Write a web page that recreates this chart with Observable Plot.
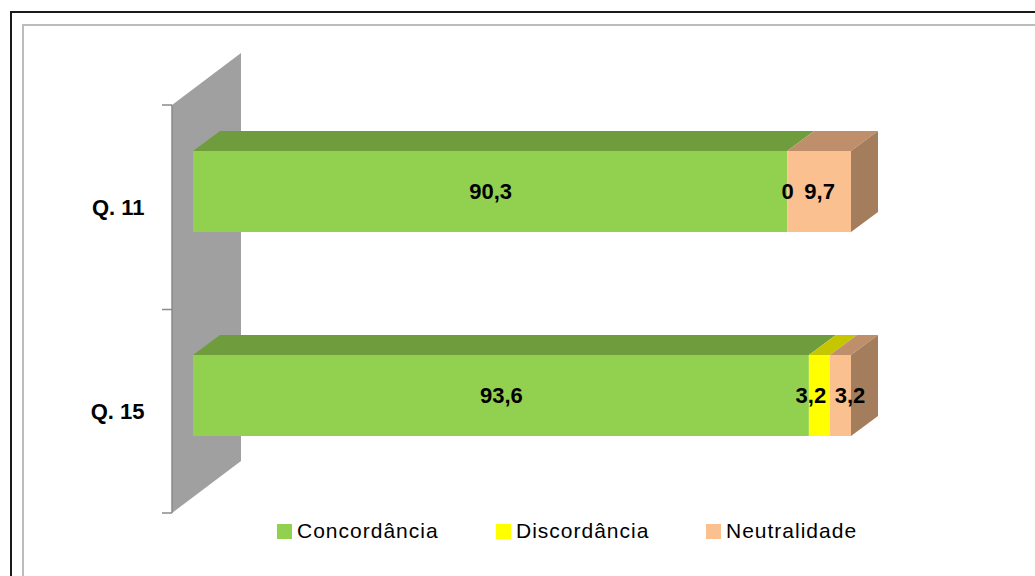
<!DOCTYPE html>
<html>
<head>
<meta charset="utf-8">
<script src="https://cdn.jsdelivr.net/npm/d3@7"></script>
<script src="https://cdn.jsdelivr.net/npm/@observablehq/plot@0.6"></script>
<style>
  body { margin: 0; background: #fff; font-family: "Liberation Sans", Arial, sans-serif; }
  #page { position: relative; width: 1035px; height: 576px; overflow: hidden; background: #fff; }
  #outer { position: absolute; left: 10px; top: 11px; width: 1100px; height: 700px; border: 2px solid #1a1a1a; box-sizing: border-box; }
  #inner { position: absolute; left: 22px; top: 24px; width: 1100px; height: 700px; border: 2px solid #bcbcbc; box-sizing: border-box; }
  #chart { position: absolute; left: 0; top: 0; }
  #chart svg { background: transparent; overflow: visible; }
  .legend-item { position: absolute; top: 522px; display: flex; align-items: center; font-size: 21px; letter-spacing: 1px; color: #000; line-height: 18px; }
  .legend-item .sw { width: 15px; height: 15px; margin-right: 5px; }
</style>
</head>
<body>
<div id="page">
  <div id="outer"></div>
  <div id="inner"></div>
  <div id="chart"></div>
  <div id="legend"></div>
</div>
<script>
// Survey answers per question (percent)
const questions = ["Q. 11", "Q. 15"];
const categories = ["Concordância", "Discordância", "Neutralidade"];
const q11Values = [90.3, 0, 9.7];
const q15Values = [93.6, 3.2, 3.2];

// Face colours of the 3-D bars
const frontColors = ["#92D050", "#FFFF00", "#FAC090"];
const topColors = ["#6F9D3D", "#C6C600", "#BF8F6B"];
const sideColors = ["#6A9436", "#B8B800", "#A47D5C"];

const seriesByQuestion = [q11Values, q15Values];

// One row per segment; `mid` is the centre of the segment along the stack
const rows = questions.flatMap((q, i) => {
  let acc = 0;
  return categories.map((c, j) => {
    const value = seriesByQuestion[i][j];
    const row = {question: q, category: c, value, mid: acc + value / 2};
    acc += value;
    return row;
  });
});

// Pseudo-3D geometry (pixels)
const DEPTH_X = 27, DEPTH_Y = -20;   // bar depth
const SHIFT = -16;                   // bar front face lifted above the band centre
const WALL_DX = 69, WALL_DY = -52;   // depth of the side wall
const WALL_GAP = 21;                 // wall front edge left of the zero line

const fmt = v => String(v).replace(".", ",");

function bandwidthOf(y) {
  return typeof y.bandwidth === "function" ? y.bandwidth() : 81;
}

// Grey side wall with the category ticks
function wall(index, scales, values, dims) {
  const {x, y} = scales;
  const bw = bandwidthOf(y);
  const top = dims.marginTop, bottom = dims.height - dims.marginBottom;
  const x0 = x(0) - WALL_GAP;
  const g = d3.create("svg:g");
  g.append("path")
    .attr("d", `M${x0},${top}L${x0 + WALL_DX},${top + WALL_DY}L${x0 + WALL_DX},${bottom + WALL_DY}L${x0},${bottom}Z`)
    .attr("fill", "#A0A0A0");
  g.append("line")
    .attr("x1", x0).attr("x2", x0).attr("y1", top).attr("y2", bottom)
    .attr("stroke", "#8a8a8a").attr("stroke-width", 1.5);
  const mid = (y(questions[0]) + bw + y(questions[1])) / 2;
  for (const ty of [top, mid, bottom]) {
    g.append("line")
      .attr("x1", x0 - 10).attr("x2", x0).attr("y1", ty).attr("y2", ty)
      .attr("stroke", "#8a8a8a").attr("stroke-width", 1.5);
  }
  return g.node();
}

// Top faces of every segment and the right face at the end of each stack
function depthFaces(index, scales) {
  const {x, y} = scales;
  const bw = bandwidthOf(y);
  const g = d3.create("svg:g");
  questions.forEach((q, i) => {
    const vals = seriesByQuestion[i];
    const y0 = y(q) + SHIFT;
    let acc = 0, last = -1;
    vals.forEach((v, j) => {
      const a = x(acc), b = x(acc + v);
      acc += v;
      if (v <= 0) return;
      last = j;
      g.append("path")
        .attr("d", `M${a},${y0}L${a + DEPTH_X},${y0 + DEPTH_Y}L${b + DEPTH_X},${y0 + DEPTH_Y}L${b},${y0}Z`)
        .attr("fill", topColors[j]);
    });
    const e = x(acc);
    g.append("path")
      .attr("d", `M${e},${y0}L${e + DEPTH_X},${y0 + DEPTH_Y}L${e + DEPTH_X},${y0 + bw + DEPTH_Y}L${e},${y0 + bw}Z`)
      .attr("fill", sideColors[last]);
  });
  return g.node();
}

const labelOpts = {y: "question", x: "mid", text: d => fmt(d.value), fontWeight: "bold", fontSize: 22, fill: "#000", dy: SHIFT};
const isNarrow = d => d.value > 0 && d.value < 5;

const chart = Plot.plot({
  width: 1035,
  height: 520,
  marginLeft: 193,
  marginRight: 184,
  marginTop: 105,
  marginBottom: 7,
  style: {fontFamily: "'Liberation Sans', Arial, sans-serif", background: "transparent"},
  x: {domain: [0, 100], axis: null},
  y: {domain: questions, paddingInner: 0.603, paddingOuter: 0.3015, axis: null},
  color: {domain: categories, range: frontColors},
  marks: [
    wall,
    Plot.axisY({tickSize: 0, tickPadding: 49, fontWeight: "bold", fontSize: 22, label: null}),
    depthFaces,
    Plot.barX(rows, Plot.stackX({y: "question", x: "value", fill: "category", dy: SHIFT})),
    Plot.text(rows.filter(d => !isNarrow(d)), labelOpts),
    // narrow neighbouring segments: spread their labels apart
    Plot.text(rows.filter(d => isNarrow(d) && d.category === "Discordância"), {...labelOpts, dx: -9}),
    Plot.text(rows.filter(d => isNarrow(d) && d.category === "Neutralidade"), {...labelOpts, dx: 9})
  ]
});
document.getElementById("chart").append(chart);

// Legend
const legendLeft = [277, 496, 706];
const legend = document.getElementById("legend");
categories.forEach((c, i) => {
  const item = document.createElement("div");
  item.className = "legend-item";
  item.style.left = legendLeft[i] + "px";
  const sw = document.createElement("span");
  sw.className = "sw";
  sw.style.background = frontColors[i];
  const label = document.createElement("span");
  label.textContent = c;
  item.append(sw, label);
  legend.append(item);
});
</script>
</body>
</html>
